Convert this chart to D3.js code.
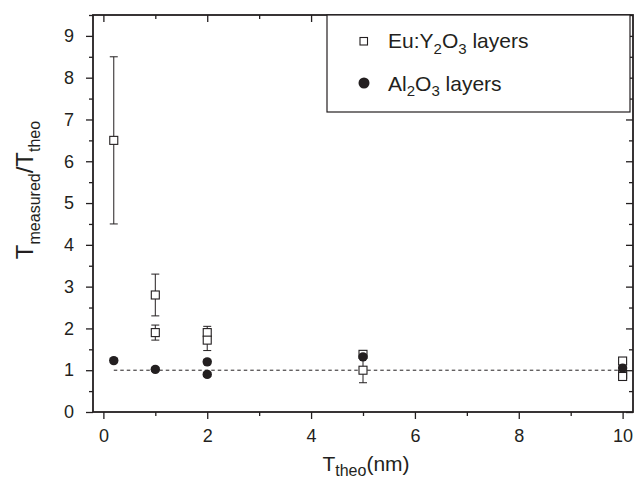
<!DOCTYPE html>
<html>
<head>
<meta charset="utf-8">
<script src="https://cdn.jsdelivr.net/npm/d3@7"></script>
<style>
  html, body { margin: 0; padding: 0; background: #fff; }
  svg { display: block; font-family: "Liberation Sans", Arial, sans-serif; }
</style>
</head>
<body>
<svg id="chart" width="634" height="480"></svg>
<script>
// Eu:Y2O3 layers (open squares) with error half-widths
const euX   = [0.2, 1, 1, 2, 2, 5, 5, 10, 10, 10];
const euY   = [6.5, 2.8, 1.9, 1.9, 1.72, 1.38, 1.0, 1.22, 0.9, 0.85];
const euErr = [2.0, 0.5, 0.18, 0.15, 0.25, 0.08, 0.3, 0.08, 0.06, 0.05];

// Al2O3 layers (filled circles)
const alX   = [0.2, 1, 2, 2, 5, 10];
const alY   = [1.23, 1.02, 1.2, 0.9, 1.32, 1.05];
const alErr = [0.05, 0.05, 0.05, 0.05, 0.05, 0.05];

const xMajor = [0, 2, 4, 6, 8, 10];
const xMinor = [1, 3, 5, 7, 9];
const yMajor = [0, 1, 2, 3, 4, 5, 6, 7, 8, 9];
const yMinor = [0.5, 1.5, 2.5, 3.5, 4.5, 5.5, 6.5, 7.5, 8.5, 9.5];

const ink = "#231f20";
const svg = d3.select("#chart");
const L = 93, R = 633, T = 15, B = 412;

const x = d3.scaleLinear().domain([-0.2, 10.2]).range([L, R]);
const y = d3.scaleLinear().domain([0, 9.5]).range([B, T]);

// axes on all four sides: major + minor ticks
function styleAxis(g) {
  g.select(".domain").remove();
  g.selectAll("line").attr("stroke", ink).attr("stroke-width", 1.3);
  g.selectAll("text").attr("fill", ink).attr("font-size", 18);
}
svg.append("g").attr("transform", `translate(0,${B})`)
  .call(d3.axisBottom(x).tickValues(xMajor).tickSize(7).tickPadding(10).tickFormat(d3.format("d")))
  .call(styleAxis);
svg.append("g").attr("transform", `translate(0,${B})`)
  .call(d3.axisBottom(x).tickValues(xMinor).tickSize(4).tickFormat(""))
  .call(styleAxis);
svg.append("g").attr("transform", `translate(0,${T})`)
  .call(d3.axisBottom(x).tickValues(xMajor).tickSize(7).tickFormat(""))
  .call(styleAxis);
svg.append("g").attr("transform", `translate(0,${T})`)
  .call(d3.axisBottom(x).tickValues(xMinor).tickSize(4).tickFormat(""))
  .call(styleAxis);
svg.append("g").attr("transform", `translate(${L},0)`)
  .call(d3.axisLeft(y).tickValues(yMajor).tickSize(7).tickPadding(12).tickFormat(d3.format("d")))
  .call(styleAxis);
svg.append("g").attr("transform", `translate(${L},0)`)
  .call(d3.axisLeft(y).tickValues(yMinor).tickSize(4).tickFormat(""))
  .call(styleAxis);
svg.append("g").attr("transform", `translate(${R},0)`)
  .call(d3.axisLeft(y).tickValues(yMajor).tickSize(7).tickFormat(""))
  .call(styleAxis);
svg.append("g").attr("transform", `translate(${R},0)`)
  .call(d3.axisLeft(y).tickValues(yMinor).tickSize(4).tickFormat(""))
  .call(styleAxis);

// plot frame
svg.append("rect").attr("x", L).attr("y", T).attr("width", R - L).attr("height", B - T)
  .attr("fill", "none").attr("stroke", ink).attr("stroke-width", 1.8);

// reference line at ratio = 1
svg.append("line")
  .attr("x1", x(0.2)).attr("x2", x(10)).attr("y1", y(1)).attr("y2", y(1))
  .attr("stroke", ink).attr("stroke-width", 1).attr("stroke-dasharray", "3.5,3");

// error bars
function errorBars(xs, ys, es) {
  const g = svg.append("g").attr("stroke", ink).attr("stroke-width", 1);
  xs.forEach((xv, i) => {
    const cx = x(xv), y0 = y(ys[i] - es[i]), y1 = y(ys[i] + es[i]);
    g.append("line").attr("x1", cx).attr("x2", cx).attr("y1", y0).attr("y2", y1);
    g.append("line").attr("x1", cx - 4).attr("x2", cx + 4).attr("y1", y0).attr("y2", y0);
    g.append("line").attr("x1", cx - 4).attr("x2", cx + 4).attr("y1", y1).attr("y2", y1);
  });
}
errorBars(euX, euY, euErr);

const sq = 8;
svg.append("g").selectAll("rect").data(euX).join("rect")
  .attr("x", (d) => x(d) - sq / 2)
  .attr("y", (d, i) => y(euY[i]) - sq / 2)
  .attr("width", sq).attr("height", sq)
  .attr("fill", "#fff").attr("stroke", ink).attr("stroke-width", 1.1);

errorBars(alX, alY, alErr);
svg.append("g").selectAll("circle").data(alX).join("circle")
  .attr("cx", (d) => x(d))
  .attr("cy", (d, i) => y(alY[i]))
  .attr("r", 4.7)
  .attr("fill", ink);

// text with subscripts: parts are [string, isSubscript]
function richText(g, xPos, yPos, parts, size, subSize, anchor, drop) {
  const t = g.append("text").attr("x", xPos).attr("y", yPos)
    .attr("fill", ink).attr("font-size", size).attr("text-anchor", anchor || "start");
  const d = drop == null ? size * 0.28 : drop;
  let shifted = false;
  parts.forEach(([s, sub]) => {
    const ts = t.append("tspan").text(s);
    if (sub) {
      ts.attr("font-size", subSize);
      if (!shifted) { ts.attr("dy", d); shifted = true; }
    } else if (shifted) {
      ts.attr("dy", -d); shifted = false;
    }
  });
  return t;
}

// legend
const lg = svg.append("g");
lg.append("rect").attr("x", 327).attr("y", T).attr("width", 303).attr("height", 97)
  .attr("fill", "#fff").attr("stroke", ink).attr("stroke-width", 1.2);
lg.append("rect").attr("x", 360).attr("y", 37.5).attr("width", 7.5).attr("height", 7.5)
  .attr("fill", "#fff").attr("stroke", ink).attr("stroke-width", 1.1);
lg.append("circle").attr("cx", 364).attr("cy", 83).attr("r", 5.5).attr("fill", ink);
richText(lg, 388, 48, [["Eu:Y", false], ["2", true], ["O", false], ["3", true], [" layers", false]], 21, 15);
richText(lg, 388, 90.5, [["Al", false], ["2", true], ["O", false], ["3", true], [" layers", false]], 21, 15);

// axis titles
richText(svg, 366, 471, [["T", false], ["theo", true], ["(nm)", false]], 21, 16, "middle", 4.5);
const yl = svg.append("g").attr("transform", "translate(33,190) rotate(-90)");
richText(yl, 0, 0, [["T", false], ["measured", true], ["/T", false], ["theo", true]], 24, 16, "middle");
</script>
</body>
</html>
